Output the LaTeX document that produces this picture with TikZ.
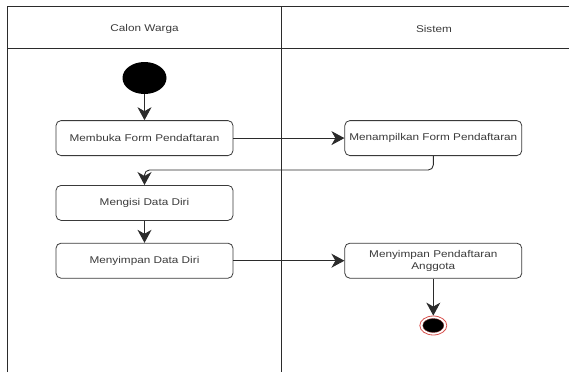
\documentclass[tikz,border=0pt]{standalone}
\usepackage{fontspec}
\usepackage{tikz}
\usetikzlibrary{arrows.meta,positioning,shapes.geometric}
\newfontfamily\uifont{Liberation Sans}[FakeStretch=1.2]
\definecolor{ink}{HTML}{3A3A3A}
\definecolor{frame}{HTML}{2B2B2B}
\definecolor{ring}{HTML}{D9534F}

\begin{document}
\begin{tikzpicture}[
  x=1pt, y=-1pt,
  font=\uifont\fontsize{9.8}{12}\selectfont,
  lane/.style={draw=frame, line width=0.9pt},
  act/.style={draw=ink, rounded corners=5pt, minimum width=177pt, minimum height=35pt, align=center, text=ink, inner sep=2pt, line width=0.8pt},
  flow/.style={-{Stealth[length=13pt, width=14pt, inset=4pt]}, draw=frame, line width=0.9pt},
  startnode/.style={ellipse, fill=black, minimum width=44pt, minimum height=32pt, inner sep=0pt},
  endring/.style={ellipse, draw=ring, line width=0.8pt, minimum width=27pt, minimum height=19pt, inner sep=0pt},
  enddot/.style={ellipse, draw=ring!60!black, fill=black, minimum width=21pt, minimum height=14pt, inner sep=0pt}
]
\useasboundingbox (0,0) rectangle (569,372);
% swimlanes
\draw[lane] (7,372) |- (569,6.5);
\draw[lane] (7,48) -- (569,48);
\draw[lane] (281.5,6.5) -- (281.5,372);
\node[text=ink] (laneA) at (144.5,29) {Calon Warga};
\node[text=ink] (laneB) at (434,29) {Sistem};

\node[startnode] (start) at (144.5,78) {};
\node[act, below=26pt of start] (buka) {Membuka Form Pendaftaran};
\node[act, right=111pt of buka] (tampil) {Menampilkan Form Pendaftaran};
\node[act, below=29pt of buka] (isi) {Mengisi Data Diri};
\node[act, below=22pt of isi] (simpan) {Menyimpan Data Diri};
\node[act, right=111pt of simpan] (daftar) {Menyimpan Pendaftaran\\Anggota};
\node[endring, below=37pt of daftar] (akhir) {};
\node[enddot] (akhirdot) at (akhir) {};

\draw[flow] (start) -- (buka);
\draw[flow] (buka) -- (tampil);
\draw[flow, rounded corners=5pt] (tampil.south) -- ++(0,14) -| (isi.north);
\draw[flow] (isi) -- (simpan);
\draw[flow] (simpan) -- (daftar);
\draw[flow] (daftar) -- (akhir);
\end{tikzpicture}
\end{document}
